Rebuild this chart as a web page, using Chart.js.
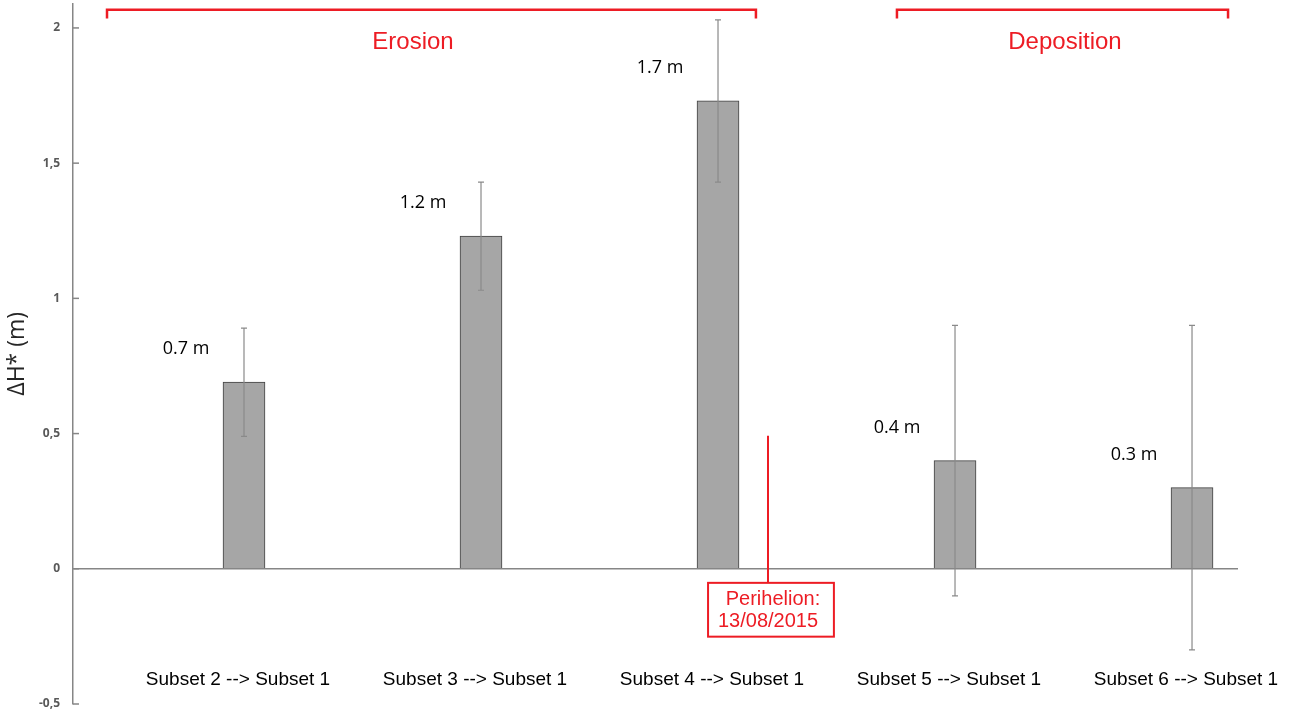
<!DOCTYPE html>
<html>
<head>
<meta charset="utf-8">
<script src="https://cdn.jsdelivr.net/npm/chart.js@4.4.1/dist/chart.umd.min.js"></script>
<style>
  html, body { margin: 0; padding: 0; background: #fff; }
  #wrap { width: 1299px; height: 713px; }
</style>
</head>
<body>
<div id="wrap"><canvas id="dhChart"></canvas></div>
<script>
const categories = ["Subset 2 --> Subset 1", "Subset 3 --> Subset 1", "Subset 4 --> Subset 1", "Subset 5 --> Subset 1", "Subset 6 --> Subset 1"];
const dhValues = [0.69, 1.23, 1.73, 0.40, 0.30];
const errLow = [0.49, 1.03, 1.43, -0.10, -0.30];
const errHigh = [0.89, 1.43, 2.03, 0.90, 0.90];
const valueLabels = ["0.7 m", "1.2 m", "1.7 m", "0.4 m", "0.3 m"];
const yTicks = [-0.5, 0, 0.5, 1, 1.5, 2];

const red = "#ed1c24";
const axisGray = "#868686";

// category labels, error bars, value labels and the red notes, all placed through the scales
const notesPlugin = {
  id: "notes",
  afterDatasetsDraw(chart) {
    const { ctx, scales: { x, y } } = chart;
    ctx.save();

    // small inside tick marks on the y axis
    ctx.strokeStyle = axisGray;
    ctx.lineWidth = 1.5;
    yTicks.forEach(v => {
      const py = y.getPixelForValue(v);
      ctx.beginPath();
      ctx.moveTo(chart.chartArea.left, py);
      ctx.lineTo(chart.chartArea.left + 6, py);
      ctx.stroke();
    });

    // error bars
    ctx.strokeStyle = "#8a8a8a";
    ctx.lineWidth = 1.2;
    dhValues.forEach((_, i) => {
      const px = x.getPixelForValue(i);
      const lo = y.getPixelForValue(errLow[i]);
      const hi = y.getPixelForValue(errHigh[i]);
      ctx.beginPath();
      ctx.moveTo(px, lo); ctx.lineTo(px, hi);
      ctx.moveTo(px - 3, lo); ctx.lineTo(px + 3, lo);
      ctx.moveTo(px - 3, hi); ctx.lineTo(px + 3, hi);
      ctx.stroke();
    });

    ctx.textAlign = "center";
    ctx.textBaseline = "middle";

    // category labels, low on the plot like the original
    ctx.fillStyle = "#000";
    ctx.font = "19px 'Liberation Sans', Arial";
    categories.forEach((c, i) => {
      ctx.fillText(c, x.getPixelForValue(i) - 6, y.getPixelForValue(-0.412));
    });

    // value labels
    ctx.font = "18px 'Open Sans'";
    dhValues.forEach((v, i) => {
      ctx.fillText(valueLabels[i], x.getPixelForValue(i) - 58, y.getPixelForValue(v) - 33);
    });

    // brackets
    ctx.strokeStyle = red;
    ctx.lineWidth = 2.5;
    [[-0.578, 2.160], [2.755, 4.152]].forEach(([a, b]) => {
      const top = y.getPixelForValue(2.067), foot = y.getPixelForValue(2.035);
      ctx.beginPath();
      ctx.moveTo(x.getPixelForValue(a), foot);
      ctx.lineTo(x.getPixelForValue(a), top);
      ctx.lineTo(x.getPixelForValue(b), top);
      ctx.lineTo(x.getPixelForValue(b), foot);
      ctx.stroke();
    });
    ctx.fillStyle = red;
    ctx.font = "24px 'Liberation Sans', Arial";
    ctx.fillText("Erosion", x.getPixelForValue(0.713), y.getPixelForValue(1.948));
    ctx.fillText("Deposition", x.getPixelForValue(3.464), y.getPixelForValue(1.948));

    // perihelion marker
    ctx.lineWidth = 2;
    ctx.beginPath();
    ctx.moveTo(x.getPixelForValue(2.211), y.getPixelForValue(0.492));
    ctx.lineTo(x.getPixelForValue(2.211), y.getPixelForValue(-0.052));
    ctx.stroke();
    const bx0 = x.getPixelForValue(1.958), bx1 = x.getPixelForValue(2.489);
    const by0 = y.getPixelForValue(-0.052), by1 = y.getPixelForValue(-0.251);
    ctx.strokeRect(bx0, by0, bx1 - bx0, by1 - by0);
    ctx.font = "20px 'Liberation Sans', Arial";
    ctx.fillText("Perihelion:", x.getPixelForValue(2.232), y.getPixelForValue(-0.115));
    ctx.fillText("13/08/2015", x.getPixelForValue(2.211), y.getPixelForValue(-0.196));

    ctx.restore();
  }
};

new Chart(document.getElementById("dhChart"), {
  type: "bar",
  data: {
    datasets: [{
      data: dhValues.map((v, i) => ({ x: i, y: v })),
      backgroundColor: "#a6a6a6",
      borderColor: "#404040",
      borderWidth: 1,
      barThickness: 42,
    }]
  },
  options: {
    responsive: true,
    maintainAspectRatio: false,
    animation: false,
    layout: { padding: { top: 3.6, right: 61, bottom: 9, left: 0 } },
    plugins: { legend: { display: false }, tooltip: { enabled: false } },
    scales: {
      x: {
        type: "linear",
        display: false,
        offset: false,
        min: -0.7215,
        max: 4.194
      },
      y: {
        min: -0.5,
        max: 2.09,
        afterBuildTicks: s => { s.ticks = yTicks.map(v => ({ value: v })); },
        afterFit: s => { s.width = 73; s.paddingTop = 0; s.paddingBottom = 0; },
        ticks: {
          callback: v => String(v).replace(".", ","),
          color: "#595959",
          padding: 13,
          font: { family: "'Open Sans'", size: 12, weight: "bold" }
        },
        grid: {
          drawTicks: false,
          color: c => c.tick && c.tick.value === 0 ? axisGray : "transparent",
          lineWidth: 1.5
        },
        border: { color: axisGray, width: 1.5 },
        title: {
          display: true,
          text: "ΔH* (m)",
          color: "#262626",
          padding: 4,
          font: { family: "'Open Sans'", size: 23 }
        }
      }
    }
  },
  plugins: [notesPlugin]
});
</script>
</body>
</html>
